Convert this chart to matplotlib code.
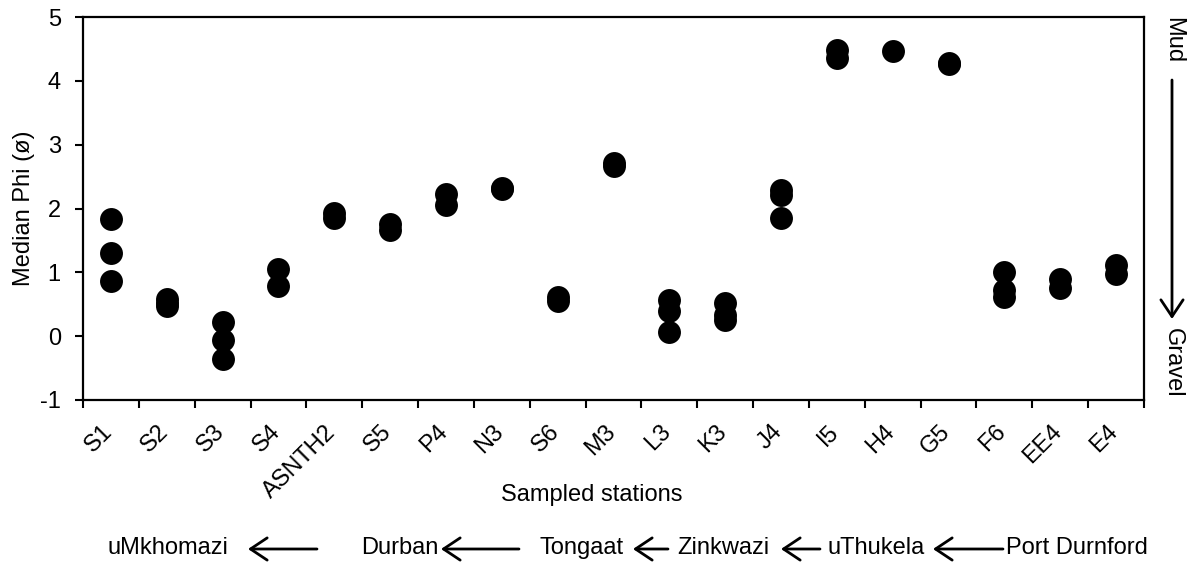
import matplotlib

matplotlib.use("Agg")

import matplotlib.pyplot as plt
import matplotlib.transforms as mtransforms
import numpy as np

plt.rcParams["font.family"] = ["Liberation Sans", "DejaVu Sans"]

# Station order along the coast (south -> north)
stations = ["S1", "S2", "S3", "S4", "ASNTH2", "S5", "P4", "N3", "S6", "M3",
            "L3", "K3", "J4", "I5", "H4", "G5", "F6", "EE4", "E4"]

# Median phi of the replicate samples at each station
median_phi = [
    [1.83, 1.30, 0.86],
    [0.58, 0.52, 0.47],
    [0.22, -0.06, -0.36],
    [1.05, 0.79],
    [1.93, 1.85],
    [1.76, 1.66],
    [2.22, 2.05],
    [2.32, 2.30],
    [0.61, 0.55],
    [2.72, 2.66],
    [0.57, 0.40, 0.06],
    [0.52, 0.33, 0.25],
    [2.29, 2.21, 1.85],
    [4.48, 4.36],
    [4.47],
    [4.28, 4.26],
    [1.00, 0.72, 0.61],
    [0.89, 0.76],
    [1.11, 0.98],
]

y_ticks = [-1, 0, 1, 2, 3, 4, 5]

# Rivers / towns below the axis, north end on the right
places = ["uMkhomazi", "Durban", "Tongaat", "Zinkwazi", "uThukela", "Port Durnford"]

FS = 17
W, H = 1193, 563

fig = plt.figure(figsize=(W / 100, H / 100), dpi=100)
ax = fig.add_axes([83 / W, 1 - 400 / H, (1144 - 83) / W, (400 - 17) / H])

for i, vals in enumerate(median_phi):
    ax.plot(np.full(len(vals), i), vals, "o", color="black",
            markersize=16.5, markeredgewidth=0, linestyle="none")

n = len(stations)
ax.set_xlim(-0.5, n - 0.5)
ax.set_ylim(y_ticks[0], y_ticks[-1])
ax.set_yticks(y_ticks)
ax.set_yticklabels([str(t) for t in y_ticks])

# labels at the centres, tick marks on the category edges
ax.set_xticks(np.arange(n))
ax.set_xticklabels(stations, rotation=45, ha="right", va="top")
ax.set_xticks(np.arange(n + 1) - 0.5, minor=True)
ax.tick_params(axis="x", which="major", length=0, pad=15, labelsize=FS)
ax.tick_params(axis="x", which="minor", length=6, width=1.5, direction="out")
ax.tick_params(axis="y", which="major", length=6, width=1.5, direction="out",
               pad=10, labelsize=FS)
shift = mtransforms.ScaledTranslation(6 / 100, 0, fig.dpi_scale_trans)
for lab in ax.get_xticklabels():
    lab.set_transform(lab.get_transform() + shift)

for sp in ax.spines.values():
    sp.set_linewidth(1.6)

ax.set_ylabel("Median Phi (ø)", fontsize=FS)
ax.yaxis.set_label_coords(-0.045, 0.5)


def fpx(x, y):
    return (x, H - y)


fig.text(592 / W, 1 - 495 / H, "Sampled stations", fontsize=FS,
         ha="center", va="center")

# Mud -> Gravel scale on the right
fig.text(1173 / W, 1 - 17 / H, "Mud", fontsize=FS, rotation=-90,
         ha="center", va="top")
fig.text(1173 / W, 1 - 398 / H, "Gravel", fontsize=FS, rotation=-90,
         ha="center", va="bottom")
arrow = dict(arrowstyle="->,head_length=0.6,head_width=0.4", lw=2.0,
             color="black", shrinkA=0, shrinkB=0, mutation_scale=20)
ax.annotate("", xy=fpx(1172, 319), xytext=fpx(1172, 80),
            xycoords="figure pixels", textcoords="figure pixels",
            arrowprops=arrow, annotation_clip=False)

# coastline sequence along the bottom
place_x = [168, 400, 582, 723, 876, 1077]
arrow_spans = [(317, 248), (519, 441), (668, 633), (820, 781), (1003, 933)]
for name, x in zip(places, place_x):
    fig.text(x / W, 1 - 548 / H, name, fontsize=FS, ha="center", va="center")
for tail, head in arrow_spans:
    ax.annotate("", xy=fpx(head, 549), xytext=fpx(tail, 549),
                xycoords="figure pixels", textcoords="figure pixels",
                arrowprops=arrow, annotation_clip=False)

fig.savefig("out.png", dpi=100)
